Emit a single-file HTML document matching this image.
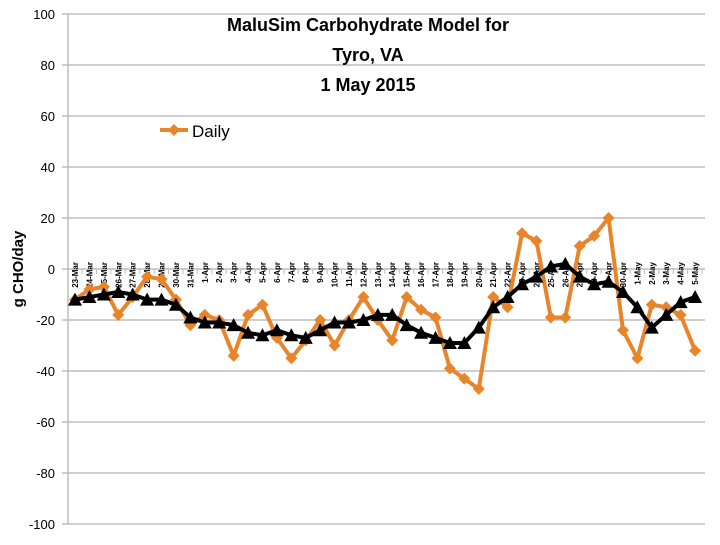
<!DOCTYPE html><html><head><style>body{margin:0;background:#fff}</style></head><body>
<svg width="720" height="540" xmlns="http://www.w3.org/2000/svg" font-family="Liberation Sans, sans-serif">
<g stroke="#bdbdbd" stroke-width="1.5" id="grid"></g>
<g id="c"></g>
<script>
var g=document.getElementById('grid'),c=document.getElementById('c'),ns="http://www.w3.org/2000/svg";
function el(p,t,a,txt){var e=document.createElementNS(ns,t);for(var k in a)e.setAttribute(k,a[k]);if(txt!=null)e.textContent=txt;p.appendChild(e);return e;}
function Y(v){return 269-v*2.55;}
for(var v=-100;v<=100;v+=20){var y=Y(v);el(g,'line',{x1:62,x2:705,y1:y,y2:y});el(c,'text',{x:55,y:y+5,'text-anchor':'end','font-size':13},v);}
el(c,'line',{x1:68,x2:68,y1:14,y2:524,stroke:'#bdbdbd','stroke-width':1.5});
var labs=[];for(var d=23;d<=31;d++)labs.push(d+'-Mar');for(d=1;d<=30;d++)labs.push(d+'-Apr');for(d=1;d<=5;d++)labs.push(d+'-May');
function X(i){return 75+14.42*i;}
labs.forEach(function(l,i){var x=X(i);el(c,'line',{x1:x+7,x2:x+7,y1:269,y2:274,stroke:'#bdbdbd'});el(c,'text',{x:0,y:0,'font-size':8,'font-weight':'bold','text-anchor':'end',transform:'translate('+(x+3)+',262) rotate(-90)'},l);});
var o=[-12,-8,-7,-18,-11,-3,-4,-12,-22,-18,-20,-34,-18,-14,-27,-35,-28,-20,-30,-20,-11,-20,-28,-11,-16,-19,-39,-43,-47,-11,-15,14,11,-19,-19,9,13,20,-24,-35,-14,-15,-18,-32];
var b=[-12,-11,-10,-9,-10,-12,-12,-14,-19,-21,-21,-22,-25,-26,-24,-26,-27,-24,-21,-21,-20,-18,-18,-22,-25,-27,-29,-29,-23,-15,-11,-6,-3,1,2,-3,-6,-5,-9,-15,-23,-18,-13,-11];
function pts(a){return a.map(function(v,i){return X(i)+','+Y(v)}).join(' ');}
el(c,'polyline',{points:pts(o),fill:'none',stroke:'#e8842a','stroke-width':4,'stroke-linejoin':'round'});
o.forEach(function(v,i){var x=X(i),y=Y(v);el(c,'polygon',{points:(x-6)+','+y+' '+x+','+(y-6)+' '+(x+6)+','+y+' '+x+','+(y+6),fill:'#e8842a'});});
el(c,'polyline',{points:pts(b),fill:'none',stroke:'#000','stroke-width':4,'stroke-linejoin':'round'});
b.forEach(function(v,i){var x=X(i),y=Y(v);el(c,'polygon',{points:(x-7)+','+(y+6)+' '+x+','+(y-7)+' '+(x+7)+','+(y+6),fill:'#000'});});
el(c,'line',{x1:160,x2:188,y1:130,y2:130,stroke:'#e8842a','stroke-width':4});
el(c,'polygon',{points:'168,130 174,124 180,130 174,136',fill:'#e8842a'});
el(c,'text',{x:192,y:137,'font-size':17},'Daily');
['MaluSim Carbohydrate Model for','Tyro, VA','1 May 2015'].forEach(function(t,i){el(c,'text',{x:368,y:31+i*30,'font-size':18,'font-weight':'bold','text-anchor':'middle'},t);});
el(c,'text',{x:0,y:0,'font-size':15,'font-weight':'bold','text-anchor':'middle',transform:'translate(23,269) rotate(-90)'},'g CHO/day');
</script>
</svg></body></html>
